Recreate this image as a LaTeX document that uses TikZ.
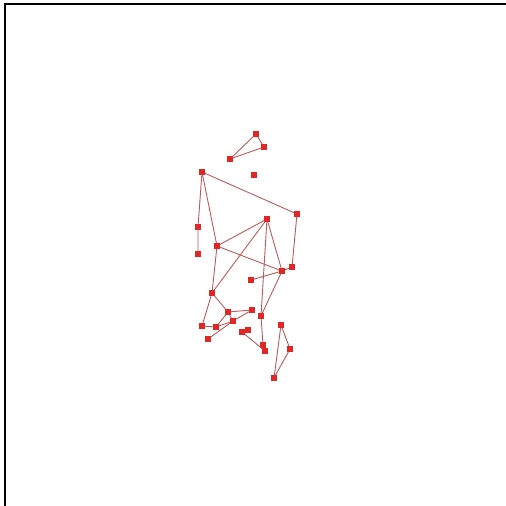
\documentclass[tikz,border=0pt]{standalone}
\definecolor{ptred}{RGB}{226,38,38}
\definecolor{edgered}{RGB}{190,90,90}
\begin{document}
\begin{tikzpicture}[x=1pt,y=-1pt,
  pt/.style={fill=ptred,inner sep=0pt,minimum size=5.5pt,draw=none},
  edge/.style={edgered,line width=0.9pt}]
\useasboundingbox (0,0) rectangle (506,506);
\draw[line width=2.5pt] (5,506) -- (5,4) -- (506,4);
% top triangle
\node[pt] (a) at (256,134) {};
\node[pt] (b) at (264,147) {};
\node[pt] (c) at (230,159) {};
\node[pt] (d) at (254,175) {};
% upper part
\node[pt] (e) at (202,172) {};
\node[pt] (f) at (297,214) {};
\node[pt] (g) at (267,219) {};
\node[pt] (h) at (198,227) {};
\node[pt] (i) at (198,254) {};
\node[pt] (j) at (217,246) {};
\node[pt] (k) at (282,271) {};
\node[pt] (l) at (292,267) {};
\node[pt] (m) at (251,280) {};
% lower part
\node[pt] (n) at (212,293) {};
\node[pt] (o) at (228,312) {};
\node[pt] (p) at (252,310) {};
\node[pt] (q) at (233,321) {};
\node[pt] (r) at (261,316) {};
\node[pt] (s) at (202,326) {};
\node[pt] (t) at (216,327) {};
\node[pt] (u) at (208,339) {};
\node[pt] (v) at (242,332) {};
\node[pt] (w) at (248,330) {};
\node[pt] (x) at (263,345) {};
\node[pt] (y) at (265,351) {};
% right triangle
\node[pt] (z1) at (281,325) {};
\node[pt] (z2) at (290,349) {};
\node[pt] (z3) at (274,378) {};
\begin{scope}[on background layer/.try]
\draw[edge] (a) -- (b) -- (c) -- (a);
\draw[edge] (e) -- (f) -- (l) -- (k);
\draw[edge] (e) -- (h) -- (i);
\draw[edge] (e) -- (j) -- (k) -- (g) -- (j);
\draw[edge] (g) -- (n) -- (j);
\draw[edge] (m) -- (k) -- (r) -- (g);
\draw[edge] (r) -- (x) -- (y) -- (v);
\draw[edge] (n) -- (s) -- (t) -- (o) -- (n);
\draw[edge] (t) -- (q) -- (o) -- (p);
\draw[edge] (u) -- (q) -- (p);
\draw[edge] (z1) -- (z2) -- (z3) -- (z1);
\end{scope}
\end{tikzpicture}
\end{document}
